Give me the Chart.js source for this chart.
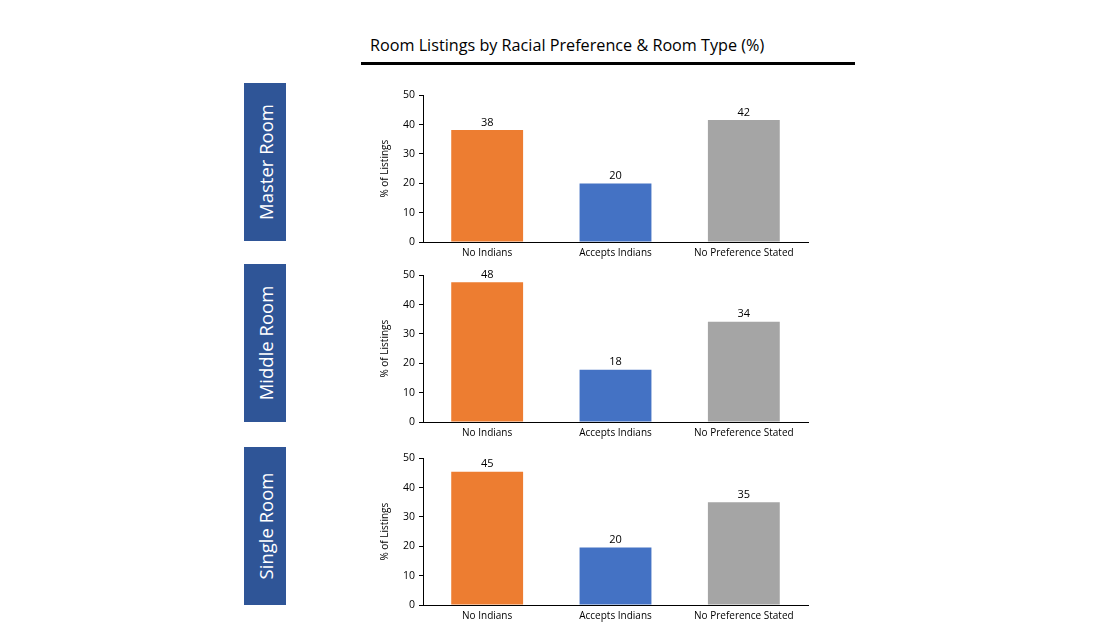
<!DOCTYPE html>
<html>
<head>
<meta charset="utf-8">
<script src="https://cdn.jsdelivr.net/npm/chart.js@4"></script>
<style>
  body { margin: 0; background: #fff; width: 1116px; height: 629px; position: relative; overflow: hidden; font-family: "Open Sans", sans-serif; }
  .title { position: absolute; left: 370px; top: 34px; font-size: 16.2px; color: #000; white-space: nowrap; }
  .rule { position: absolute; left: 361px; top: 62px; width: 494px; height: 3px; background: #000; }
  .side { position: absolute; left: 244px; width: 42px; height: 158px; background: #2F5597; }
  .side span { position: absolute; left: 50%; top: 50%; transform: translate(-50%, -50%) rotate(-90deg); color: #fff; font-size: 18.5px; white-space: nowrap; }
  canvas { position: absolute; }
</style>
</head>
<body>
<div class="title">Room Listings by Racial Preference &amp; Room Type (%)</div>
<div class="rule"></div>

<div class="side" style="top:83px"><span>Master Room</span></div>
<div class="side" style="top:264px"><span>Middle Room</span></div>
<div class="side" style="top:447px"><span>Single Room</span></div>

<canvas id="c0" width="440" height="177" style="left:370px; top:85px"></canvas>
<canvas id="c1" width="440" height="177" style="left:370px; top:265px"></canvas>
<canvas id="c2" width="440" height="177" style="left:370px; top:448px"></canvas>

<script>
const categories = ["No Indians", "Accepts Indians", "No Preference Stated"];
const masterRoom = [38.2, 19.9, 41.6];
const middleRoom = [47.6, 17.8, 34.2];
const singleRoom = [45.4, 19.6, 35.0];
const yTicks = [0, 10, 20, 30, 40, 50];
const barColors = ["#ED7D31", "#4472C4", "#A5A5A5"];

const series = [masterRoom, middleRoom, singleRoom];

const valueLabels = {
  id: "valueLabels",
  afterDatasetsDraw(chart) {
    const ctx = chart.ctx;
    const meta = chart.getDatasetMeta(0);
    ctx.save();
    ctx.font = "11px 'Open Sans', sans-serif";
    ctx.fillStyle = "#000";
    ctx.textAlign = "center";
    ctx.textBaseline = "bottom";
    meta.data.forEach((bar, i) => {
      const v = chart.data.datasets[0].data[i];
      ctx.fillText(Math.round(v), bar.x, bar.y - 2);
    });
    ctx.restore();
  },
};

function makeChart(id, values) {
  const el = document.getElementById(id);
  new Chart(el, {
    type: "bar",
    data: {
      labels: categories,
      datasets: [{
        data: values,
        backgroundColor: barColors,
        categoryPercentage: 1,
        barPercentage: 0.56,
      }],
    },
    options: {
      responsive: false,
      animation: false,
      devicePixelRatio: 1,
      layout: { padding: { top: 9, right: 2, left: 0, bottom: 0 } },
      plugins: { legend: { display: false }, tooltip: { enabled: false } },
      scales: {
        x: {
          grid: { display: false, drawTicks: false },
          border: { display: true, color: "#000", width: 1 },
          ticks: { color: "#000", font: { size: 10, family: "'Open Sans', sans-serif" }, padding: 5, maxRotation: 0 },
          afterFit(scale) { scale.height = 20; },
        },
        y: {
          min: 0,
          max: 50,
          afterBuildTicks(scale) { scale.ticks = yTicks.map((v) => ({ value: v })); },
          grid: { drawOnChartArea: false, tickLength: 4, color: "#000" },
          border: { display: true, color: "#000", width: 1 },
          ticks: { color: "#000", font: { size: 10.5, family: "'Open Sans', sans-serif" }, padding: 4 },
          title: { display: true, text: "% of Listings", color: "#000", font: { size: 10, family: "'Open Sans', sans-serif" }, padding: { top: 9, bottom: 0 } },
          afterFit(scale) { scale.width = 53; },
        },
      },
    },
    plugins: [valueLabels],
  });
}

series.forEach((vals, i) => makeChart("c" + i, vals));
</script>
</body>
</html>
